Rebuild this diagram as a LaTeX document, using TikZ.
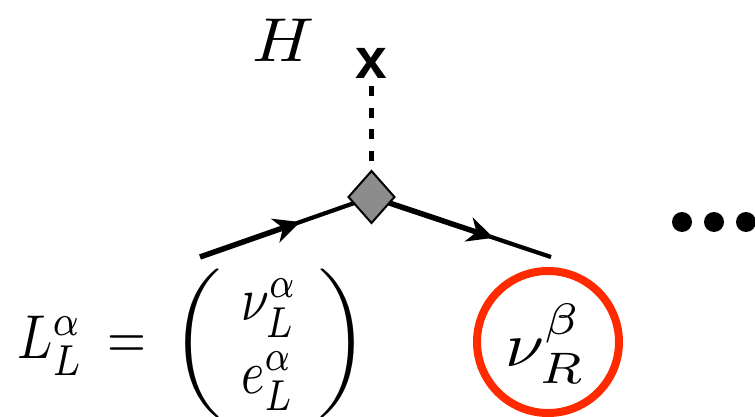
\documentclass[tikz,border=0pt]{standalone}
\usepackage[no-math]{fontspec}
\usepackage{amsmath,graphicx}
\usetikzlibrary{arrows.meta,shapes.geometric,calc}
\newfontfamily\markfont{Liberation Sans}
\definecolor{ringred}{HTML}{FF2A00}
\tikzset{
  x=1pt,y=-1pt,
  math/.style={inner sep=0pt,outer sep=0pt,anchor=base west,text=black},
  delim/.style={inner sep=0pt,outer sep=0pt,anchor=center,text=black},
  vertex/.style={diamond,draw=black,fill=black!45,line width=2pt,minimum width=46pt,minimum height=52pt,inner sep=0pt,outer sep=0pt},
  insertion/.style={inner sep=0pt,outer sep=0pt,anchor=base,text=black,font=\markfont\bfseries\fontsize{57}{59}\selectfont},
  scalar/.style={line width=5pt,dash pattern=on 10pt off 11.4pt},
  fermthick/.style={line width=5.5pt,-{Stealth[length=26pt,width=25pt,inset=8pt]}},
  fermthin/.style={line width=4.2pt},
  ring/.style={circle,draw=ringred,line width=8pt,minimum size=142pt,inner sep=0pt},
  dotmark/.style={circle,fill=black,minimum size=20pt,inner sep=0pt}
}
\begin{document}
\begin{tikzpicture}
\useasboundingbox (0,0) rectangle (755,417);
\clip (0,0) rectangle (755,417);
\node[math] (hlabel) at (252,62) {\scalebox{6.8}[6.2]{$H$}};
\node[insertion] (xmark) at (371.5,79) {x};
\coordinate (xend) at (371.5,86.5);
\coordinate (lstart) at (200,257);
\coordinate (rend) at (551,257);
\node[vertex] (v) at (371.5,197) {};
\coordinate (lmid) at ($(lstart)!0.583!(v.center)$);
\coordinate (lthin) at ($(lstart)!0.53!(v.center)$);
\coordinate (rmid) at ($(v.center)!0.68!(rend)$);
\coordinate (rthin) at ($(v.center)!0.63!(rend)$);
\draw[scalar] (xend) -- (v.north);
\draw[fermthin] (lthin) -- (v);
\draw[fermthin] (rthin) -- (rend);
\draw[fermthick] (lstart) -- (lmid);
\draw[fermthick] (v) -- (rmid);
\node[math] (eq) at (17,358) {\scalebox{5.2}[6.2]{$L_L^\alpha$}};
\node[math] (eqsign) at (107,358) {\scalebox{5}[6.2]{${=}$}};
\node[delim] (lparen) at (197,343) {\scalebox{6.8}[6.2]{$\bigg($}};
\node[delim] (rparen) at (344,343) {\scalebox{6.8}[6.2]{$\bigg)$}};
\node[math] (upper) at (241,320) {\scalebox{5}[6.2]{$\nu_L^\alpha$}};
\node[math] (lower) at (241,393) {\scalebox{5}[6.2]{$e_L^\alpha$}};
\node[ring] (ring) at (548,342) {};
\node[math] (nur) at (505,366) {\scalebox{7}[6.3]{$\nu_R^{\raisebox{1.3pt}{$\scriptstyle\beta$}}$}};
\node[dotmark] (d1) at (682,222) {};
\node[dotmark] (d2) at (714,222) {};
\node[dotmark] (d3) at (746,222) {};
\end{tikzpicture}
\end{document}
